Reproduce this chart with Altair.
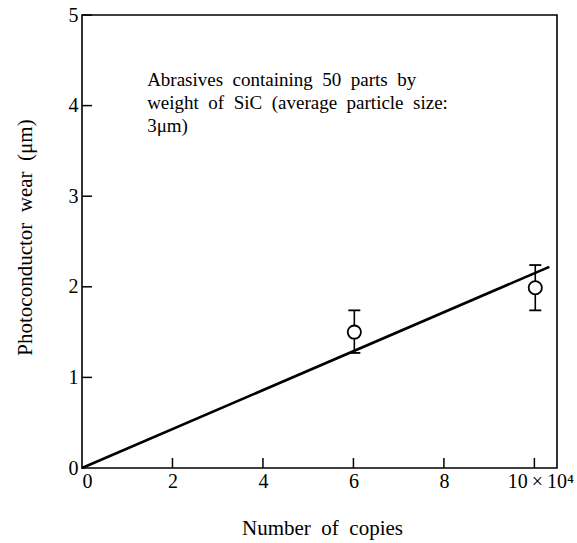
import altair as alt
import pandas as pd

# ---- data ----
copies = [6.02, 10.02]            # x 10^4 copies
wear = [1.50, 1.99]               # photoconductor wear (um)
wear_lo = [1.27, 1.74]
wear_hi = [1.74, 2.24]

fit_x = [0.0, 10.33]
fit_y = [0.0, 2.22]

x_ticks = [0, 2, 4, 6, 8, 10]
y_ticks = [0, 1, 2, 3, 4, 5]

SP = "\u2002"  # wide word space, as in the original typesetting
note_lines = [SP.join(["Abrasives", "containing", "50", "parts", "by"]),
              SP.join(["weight", "of", "SiC", "(average", "particle", "size:"]),
              "3\u03bcm)"]
note_x = [1.44]
note_y = [4.28]

FONT = "Liberation Serif"

pts = pd.DataFrame({"x": copies, "y": wear, "lo": wear_lo, "hi": wear_hi})
fit = pd.DataFrame({"x": fit_x, "y": fit_y})
xt = pd.DataFrame({"x": x_ticks[1:]})
yt = pd.DataFrame({"y": y_ticks[1:]})
note = pd.DataFrame({"x": note_x, "y": note_y, "t": [note_lines]})

xscale = alt.Scale(domain=[0, 10.5], nice=False, zero=False)
yscale = alt.Scale(domain=[0, 5], nice=False, zero=False)

xaxis = alt.Axis(
    values=x_ticks, ticks=False, tickSize=0, domain=False, grid=False, format="d",
    labelFont=FONT, labelFontSize=20, labelColor="black", labelPadding=3,
    labelExpr="datum.value == 10 ? '10\u2009\u00d7\u200910\u2074' : datum.label",
    labelOffset={"condition": {"test": "datum.value == 10", "value": 6}, "value": 0},
    title=SP.join(["Number", "of", "copies"]), titleFont=FONT, titleFontSize=21,
    titleFontWeight="normal", titleColor="black",
    titleX=240, titleY=60, titleAlign="center", titleBaseline="middle",
)
yaxis = alt.Axis(
    values=y_ticks, ticks=False, tickSize=0, domain=False, grid=False, format="d",
    labelFont=FONT, labelFontSize=20, labelColor="black", labelPadding=4,
    title=SP.join(["Photoconductor", "wear", "(\u03bcm)"]), titleFont=FONT,
    titleFontSize=21, titleFontWeight="normal", titleColor="black",
    titleX=-57, titleY=222, titleAlign="center", titleBaseline="middle",
    titleAngle=-90,
)

X = alt.X("x:Q", scale=xscale, axis=xaxis)
Y = alt.Y("y:Q", scale=yscale, axis=yaxis)

line = alt.Chart(fit).mark_line(color="black", strokeWidth=2.6).encode(x=X, y=Y)

# inward tick marks
xtick_marks = alt.Chart(xt).mark_rule(color="black", strokeWidth=1.5).encode(
    x=alt.X("x:Q", scale=xscale), y=alt.value(453), y2=alt.value(443))
ytick_marks = alt.Chart(yt).mark_rule(color="black", strokeWidth=1.5).encode(
    y=alt.Y("y:Q", scale=yscale), x=alt.value(0), x2=alt.value(10))

err = alt.Chart(pts).mark_rule(color="black", strokeWidth=1.6).encode(
    x=alt.X("x:Q", scale=xscale), y=alt.Y("lo:Q", scale=yscale), y2="hi:Q")
cap_lo = alt.Chart(pts).mark_tick(
    orient="horizontal", size=12, thickness=1.8, color="black", opacity=1
).encode(x=alt.X("x:Q", scale=xscale), y=alt.Y("lo:Q", scale=yscale))
cap_hi = alt.Chart(pts).mark_tick(
    orient="horizontal", size=12, thickness=1.8, color="black", opacity=1
).encode(x=alt.X("x:Q", scale=xscale), y=alt.Y("hi:Q", scale=yscale))

points = alt.Chart(pts).mark_point(
    shape="circle", size=175, filled=True, fill="white", stroke="black",
    strokeWidth=1.8, opacity=1
).encode(x=alt.X("x:Q", scale=xscale), y=alt.Y("y:Q", scale=yscale))

text = alt.Chart(note).mark_text(
    align="left", baseline="middle", font=FONT, fontSize=19, lineHeight=23,
    color="black"
).encode(x=alt.X("x:Q", scale=xscale), y=alt.Y("y:Q", scale=yscale), text="t")

chart = alt.layer(
    line, xtick_marks, ytick_marks, err, cap_lo, cap_hi, points, text
).properties(
    width=475, height=453,
    autosize=alt.AutoSizeParams(type="none"),
    padding={"left": 82, "top": 15, "right": 20, "bottom": 75},
    background="white",
).configure_view(stroke="black", strokeWidth=1.6)

chart.save("out.html", embed_options={"renderer": "svg", "actions": False})
